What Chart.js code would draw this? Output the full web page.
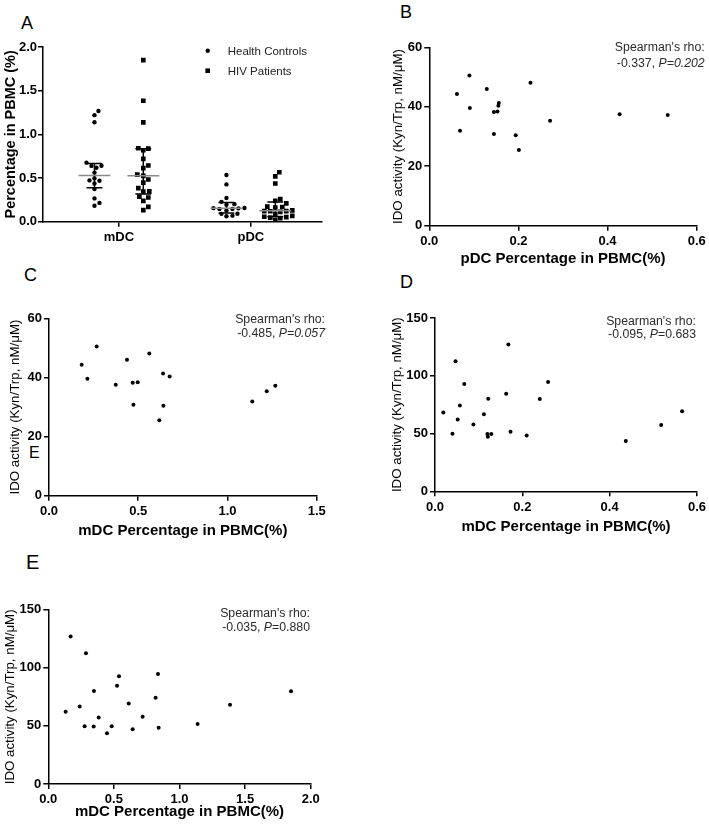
<!DOCTYPE html>
<html>
<head>
<meta charset="utf-8">
<script src="https://cdn.jsdelivr.net/npm/chart.js@4.4.1/dist/chart.umd.min.js"></script>
<style>
  body { margin: 0; background: #fff; width: 709px; height: 829px; position: relative; overflow: hidden;
         font-family: "Liberation Sans", Arial, sans-serif; }
  canvas { position: absolute; }
  .lbl { position: absolute; font-size: 18px; line-height: 18px; color: #000; }
</style>
</head>
<body>
<div class="lbl" style="left:21px;top:14px">A</div>
<div class="lbl" style="left:400px;top:3px">B</div>
<div class="lbl" style="left:24px;top:266px">C</div>
<div class="lbl" style="left:400px;top:273px">D</div>
<div class="lbl" style="left:26px;top:552px;font-size:20px;line-height:20px">E</div>
<div class="lbl" style="left:29px;top:445px;font-size:16px;line-height:16px">E</div>

<canvas id="chartA" width="340" height="250" style="left:0;top:30px"></canvas>
<canvas id="chartB" width="321" height="250" style="left:388px;top:20px"></canvas>
<canvas id="chartC" width="330" height="252" style="left:4px;top:290px"></canvas>
<canvas id="chartD" width="323" height="248" style="left:386px;top:290px"></canvas>
<canvas id="chartE" width="330" height="245" style="left:0;top:580px"></canvas>

<script>
// healthy controls, one entry per subject (same order in every array)
const hcIdo = [50.5, 48.1, 46.0, 44.3, 41.3, 40.3, 39.6, 38.4, 38.2, 37.5, 37.2, 35.3, 31.9, 30.8, 30.4, 25.5];
const hcMdc = [0.267, 0.562, 0.437, 0.183, 0.639, 0.676, 0.215, 0.497, 0.469, 0.374, 1.268, 1.220, 1.139, 0.473, 0.641, 0.618];
const hcPdc = [0.090, 0.227, 0.129, 0.062, 0.156, 0.155, 0.091, 0.153, 0.145, 0.427, 0.535, 0.271, 0.069, 0.145, 0.194, 0.201];

// HIV patients
const hivIdo = [127, 112.5, 94.7, 92.8, 84.5, 80.0, 79.9, 74.2, 69.3, 68.2, 66.7, 62.1, 57.8, 57.3, 51.6, 49.8, 49.7, 49.5, 48.4, 47.2, 43.6];
const hivMdc = [0.170, 0.287, 0.836, 0.539, 0.524, 0.348, 1.850, 0.818, 0.613, 1.385, 0.239, 0.132, 0.719, 0.384, 1.138, 0.483, 0.277, 0.346, 0.841, 0.643, 0.447];
const hivPdc = [0.168, 0.047, 0.259, 0.067, 0.163, 0.122, 0.240, 0.057, 0.566, 0.019, 0.112, 0.052, 0.088, 0.518, 0.173, 0.040, 0.129, 0.120, 0.210, 0.121, 0.437];

// panel A: median and interquartile range per group (HC mDC, HIV mDC, HC pDC, HIV pDC)
const cats = ['mDC', 'pDC'];
const groupX = [-0.185, 0.185, 0.815, 1.185];
const medians = [0.530, 0.525, 0.154, 0.124];
const q1 = [0.390, 0.317, 0.101, 0.058];
const q3 = [0.667, 0.835, 0.221, 0.225];

const FONT = '"Liberation Sans", Arial, sans-serif';
Chart.defaults.font.family = FONT;
Chart.defaults.color = '#000';

// spread the dots of a column so they do not overlap (pixel sizes of panel A)
function swarm(vals, center) {
  const pxX = 132, pxY = 87.35, d = 5.2;
  const placed = [];
  const out = new Array(vals.length);
  const order = vals.map((v, i) => i).sort((a, b) => vals[a] - vals[b]);
  for (const i of order) {
    const py = vals[i] * pxY;
    let px = 0;
    for (let k = 0; k < 80; k++) {
      const c = (k % 2 ? 1 : -1) * Math.ceil(k / 2);
      if (placed.every(p => (p[0] - c) ** 2 + (p[1] - py) ** 2 >= d * d)) { px = c; break; }
    }
    placed.push([px, py]);
    out[i] = { x: center + px / pxX, y: vals[i] };
  }
  return out;
}

function axis(o) {
  return {
    type: 'linear', min: o.min, max: o.max,
    ticks: { stepSize: o.step, padding: o.tpad === undefined ? 3 : o.tpad, color: '#000', font: { size: 13, weight: 'bold' },
             callback: v => o.fixed === undefined ? v : Number(v).toFixed(o.fixed) },
    grid: { display: true, drawOnChartArea: false, drawTicks: true, tickLength: 5, color: '#000', lineWidth: 1.5 },
    border: { display: true, color: '#000', width: 1.5 },
    title: o.title ? { display: true, text: o.title, color: '#000', padding: o.pad,
                       font: { size: o.size, weight: o.weight } } : { display: false },
    afterFit: s => { if (o.width) s.width = o.width; if (o.height) s.height = o.height; }
  };
}

// spearman note and legend drawn inside the plot area
const notePlugin = {
  id: 'note',
  afterDraw(chart, args, o) {
    const { ctx, chartArea } = chart;
    ctx.save();
    ctx.textBaseline = 'alphabetic';
    if (o.line1) {
      const xr = chartArea.right + o.dx;
      ctx.fillStyle = '#2b2b2b';
      ctx.font = '12.3px ' + FONT;
      ctx.fillText(o.line1, xr - ctx.measureText(o.line1).width, chartArea.top + o.dy1 + 4.4);
      let total = 0;
      const segs = o.segs.map(([t, it]) => {
        ctx.font = (it ? 'italic ' : '') + '12.3px ' + FONT;
        const w = ctx.measureText(t).width;
        total += w;
        return [t, it, w];
      });
      let x = xr - total;
      for (const [t, it, w] of segs) {
        ctx.font = (it ? 'italic ' : '') + '12.3px ' + FONT;
        ctx.fillText(t, x, chartArea.top + o.dy2 + 4.4);
        x += w;
      }
    }
    if (o.legend) {
      ctx.fillStyle = '#000';
      o.legend.forEach((item, i) => {
        const mx = chartArea.left + 164.7, my = chartArea.top + 3.7 + i * 20;
        ctx.beginPath();
        if (item.square) ctx.rect(mx - 2.3, my - 2.3, 4.6, 4.6);
        else ctx.arc(mx, my, 2.2, 0, Math.PI * 2);
        ctx.fill();
        ctx.fillStyle = '#222';
        ctx.font = '11.5px ' + FONT;
        ctx.fillText(item.text, chartArea.left + 184.7, my + 4.1);
        ctx.fillStyle = '#000';
      });
    }
    ctx.restore();
  }
};

const statsPlugin = {
  id: 'stats',
  afterDatasetsDraw(chart) {
    const { ctx, scales: { x, y } } = chart;
    ctx.save();
    ctx.lineWidth = 1.5;
    groupX.forEach((gx, i) => {
      const c = x.getPixelForValue(gx);
      const mw = x.getPixelForValue(gx + 0.121) - c;
      const cw = x.getPixelForValue(gx + 0.06) - c;
      const m = y.getPixelForValue(medians[i]);
      const lo = y.getPixelForValue(q1[i]);
      const hi = y.getPixelForValue(q3[i]);
      ctx.strokeStyle = '#000';
      ctx.beginPath();
      ctx.moveTo(c, lo); ctx.lineTo(c, hi);
      ctx.moveTo(c - cw, lo); ctx.lineTo(c + cw, lo);
      ctx.moveTo(c - cw, hi); ctx.lineTo(c + cw, hi);
      ctx.stroke();
      ctx.strokeStyle = '#8a8a8a';
      ctx.beginPath();
      ctx.moveTo(c - mw, m); ctx.lineTo(c + mw, m);
      ctx.stroke();
    });
    ctx.restore();
  }
};

const base = (padTop, padRight, note) => ({
  responsive: false, maintainAspectRatio: false, animation: false,
  layout: { padding: { top: padTop, right: padRight, left: 0, bottom: 0 } },
  plugins: { legend: { display: false }, tooltip: { enabled: false }, note: note }
});

// A: dot plot
const dotA = { backgroundColor: '#000', borderWidth: 0, pointRadius: 2.2 };
const sqA = { backgroundColor: '#000', borderWidth: 0, pointRadius: 3.3, pointStyle: 'rect' };
const optA = base(17, 18, { legend: [{ text: 'Health Controls' }, { text: 'HIV Patients', square: true }] });
optA.scales = {
  x: Object.assign(axis({ min: -0.575, max: 1.539, width: 0, height: 58.3 }), {
    afterBuildTicks: s => { s.ticks = cats.map((c, i) => ({ value: i })); }
  }),
  y: axis({ min: 0, max: 2, step: 0.5, fixed: 1, width: 43, tpad: 1, title: 'Percentage in PBMC (%)', size: 14.5, weight: 'bold', pad: { top: 2 } })
};
optA.scales.x.ticks.callback = v => cats[v];
new Chart(document.getElementById('chartA'), {
  type: 'scatter',
  data: { datasets: [
    Object.assign({ data: swarm(hcMdc, groupX[0]) }, dotA),
    Object.assign({ data: swarm(hivMdc, groupX[1]) }, sqA),
    Object.assign({ data: swarm(hcPdc, groupX[2]) }, dotA),
    Object.assign({ data: swarm(hivPdc, groupX[3]) }, sqA)
  ] },
  options: optA,
  plugins: [statsPlugin, notePlugin]
});

// B-E: correlation scatters
const yTitle = 'IDO activity (Kyn/Trp, nM/\u03bcM)';
function scatter(id, xs, ys, cfg) {
  const opt = base(cfg.top, cfg.right, cfg.note);
  opt.scales = {
    x: axis({ min: 0, max: cfg.xmax, step: cfg.xstep, fixed: 1, height: cfg.xh, title: cfg.xtitle,
              size: 15, weight: 'bold', pad: { top: 0, bottom: cfg.tpad } }),
    y: axis({ min: 0, max: cfg.ymax, step: cfg.ystep, width: cfg.yw, tpad: 2, title: yTitle,
              size: 13.3, weight: 'normal', pad: { top: cfg.ypad } })
  };
  new Chart(document.getElementById(id), {
    type: 'scatter',
    data: { datasets: [{ data: xs.map((x, i) => ({ x: x, y: ys[i] })), backgroundColor: '#000', borderWidth: 0, pointRadius: 2 }] },
    options: opt,
    plugins: [notePlugin]
  });
}

scatter('chartB', hcPdc, hcIdo, {
  top: 27.3, right: 12.3, yw: 41.3, xh: 44.3, tpad: 2.3, ypad: 2.3,
  xmax: 0.6, xstep: 0.2, ymax: 60, ystep: 20, xtitle: 'pDC Percentage in PBMC(%)',
  note: { line1: "Spearman's rho:", segs: [['-0.337, ', false], ['P=0.202', true]], dx: 8, dy1: -0.6, dy2: 15.7 }
});
scatter('chartC', hcMdc, hcIdo, {
  top: 28.3, right: 17.3, yw: 45, xh: 46.2, tpad: 2.5, ypad: 3.8,
  xmax: 1.5, xstep: 0.5, ymax: 60, ystep: 20, xtitle: 'mDC Percentage in PBMC(%)',
  note: { line1: "Spearman's rho:", segs: [['-0.485, ', false], ['P=0.057', true]], dx: 8.3, dy1: 0, dy2: 14.4 }
});
scatter('chartD', hivPdc, hivIdo, {
  top: 28, right: 11, yw: 49, xh: 46.7, tpad: 2.5, ypad: 3.3,
  xmax: 0.6, xstep: 0.2, ymax: 150, ystep: 50, xtitle: 'mDC Percentage in PBMC(%)',
  note: { line1: "Spearman's rho:", segs: [['-0.095, ', false], ['P', true], ['=0.683', false]], dx: -1, dy1: 2.7, dy2: 16 }
});
scatter('chartE', hivMdc, hivIdo, {
  top: 29.7, right: 19.3, yw: 48.3, xh: 41, tpad: 4.5, ypad: 2,
  xmax: 2.0, xstep: 0.5, ymax: 150, ystep: 50, xtitle: 'mDC Percentage in PBMC(%)',
  note: { line1: "Spearman's rho:", segs: [['-0.035, ', false], ['P', true], ['=0.880', false]], dx: -0.7, dy1: 2.6, dy2: 17 }
});
</script>
</body>
</html>
